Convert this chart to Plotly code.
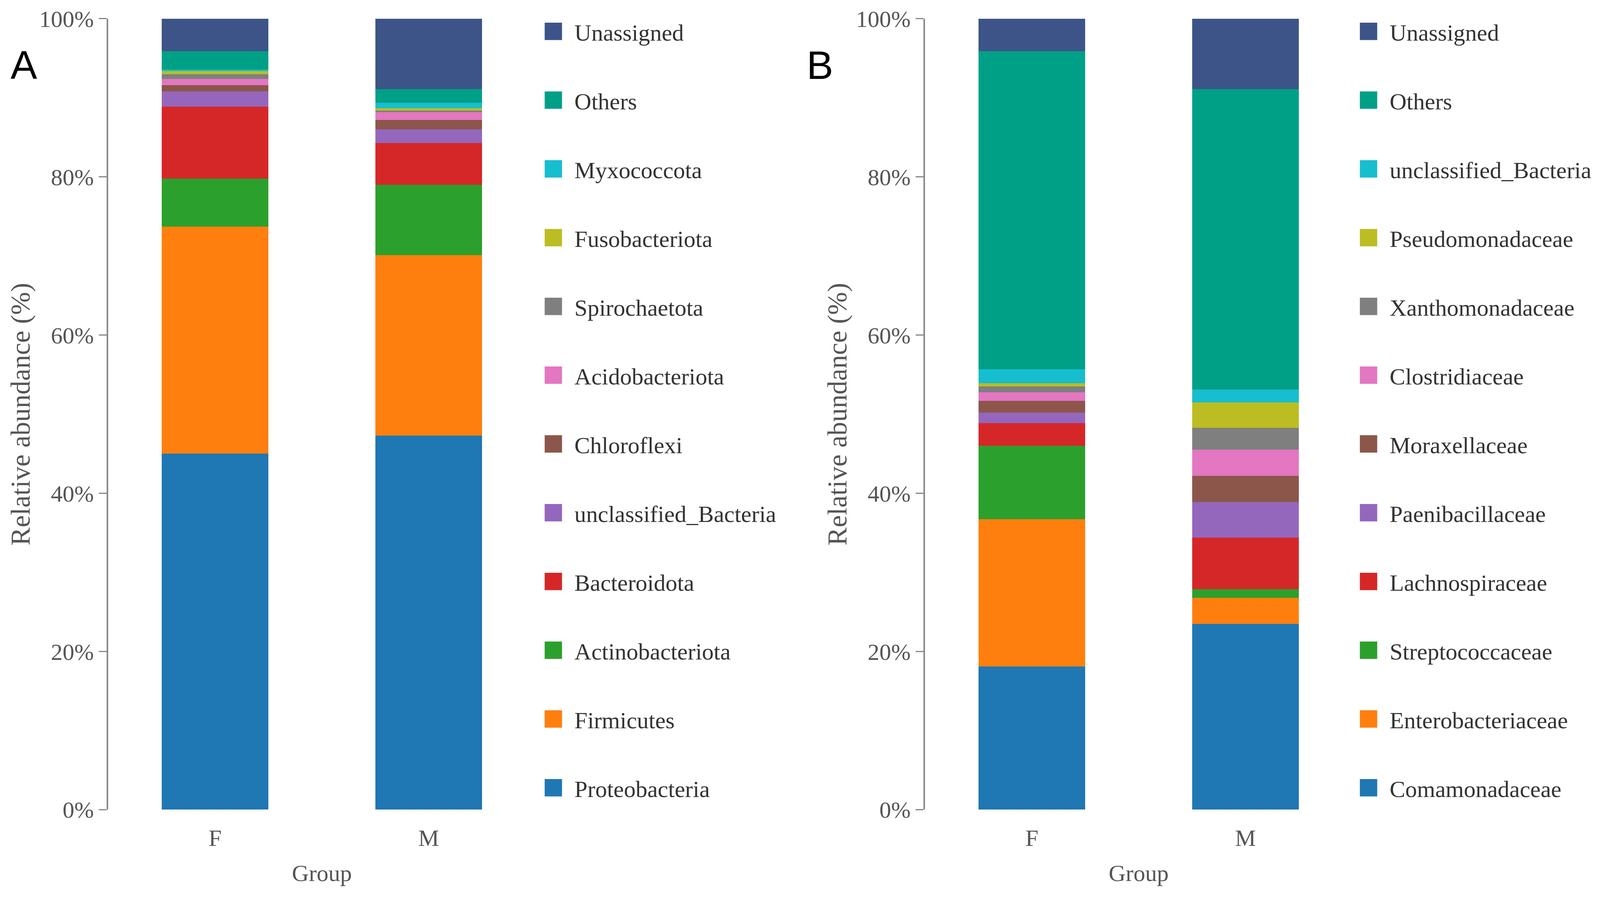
import plotly.graph_objects as go

groups = ["F", "M"]

# panel A - phylum level (bottom to top of the stack)
phylum_names = ["Proteobacteria", "Firmicutes", "Actinobacteriota", "Bacteroidota",
                "unclassified_Bacteria", "Chloroflexi", "Acidobacteriota", "Spirochaetota",
                "Fusobacteriota", "Myxococcota", "Others", "Unassigned"]
phylum_F = [45.0, 28.7, 6.1, 9.1, 1.9, 0.8, 0.8, 0.6, 0.4, 0.2, 2.3, 4.1]
phylum_M = [47.3, 22.8, 8.9, 5.3, 1.7, 1.2, 1.0, 0.2, 0.3, 0.7, 1.7, 8.9]

# panel B - family level
family_names = ["Comamonadaceae", "Enterobacteriaceae", "Streptococcaceae", "Lachnospiraceae",
                "Paenibacillaceae", "Moraxellaceae", "Clostridiaceae", "Xanthomonadaceae",
                "Pseudomonadaceae", "unclassified_Bacteria", "Others", "Unassigned"]
family_F = [18.1, 18.6, 9.3, 2.9, 1.3, 1.5, 1.1, 0.7, 0.4, 1.8, 40.2, 4.1]
family_M = [23.5, 3.3, 1.1, 6.5, 4.5, 3.3, 3.3, 2.8, 3.2, 1.6, 38.0, 8.9]

y_ticks = [0, 20, 40, 60, 80, 100]
y_tick_text = ["0%", "20%", "40%", "60%", "80%", "100%"]

colors = ["#1f77b4", "#ff7f0e", "#2ca02c", "#d62728", "#9467bd", "#8c564b",
          "#e377c2", "#7f7f7f", "#bcbd22", "#17becf", "#00a087", "#3c5488"]

serif = "Liberation Serif"

fig = go.Figure()

# legend shows the top of the stack first -> smaller rank for later traces
for i, name in enumerate(phylum_names):
    fig.add_trace(go.Bar(
        x=groups, y=[phylum_F[i], phylum_M[i]], name=name,
        marker=dict(color=colors[i], line=dict(width=0)),
        xaxis="x", yaxis="y", legend="legend", legendgroup="a%d" % i,
        legendrank=100 - i,
    ))

for i, name in enumerate(family_names):
    fig.add_trace(go.Bar(
        x=groups, y=[family_F[i], family_M[i]], name=name,
        marker=dict(color=colors[i], line=dict(width=0)),
        xaxis="x2", yaxis="y2", legend="legend2", legendgroup="b%d" % i,
        legendrank=100 - i,
    ))

ydom = [0.0965, 0.9825]
yax = dict(
    domain=ydom, range=[0, 100], tickvals=y_ticks, ticktext=y_tick_text,
    showline=True, linecolor="#888888", linewidth=4, ticks="outside", ticklen=20,
    tickwidth=3, tickcolor="#888888", showgrid=False, zeroline=False,
    tickfont=dict(family=serif, size=60, color="#555555"), ticklabelstandoff=1,
    title=dict(text="Relative abundance (%)", standoff=2,
               font=dict(family=serif, size=70, color="#555555")),
    automargin=False,
)
xax = dict(
    showline=False, ticks="", showgrid=False, zeroline=False,
    tickfont=dict(family=serif, size=60, color="#555555"), ticklabelstandoff=32,
    title=dict(text="Group", standoff=35, font=dict(family=serif, size=60, color="#555555")),
    automargin=False,
)

leg = dict(
    font=dict(family=serif, size=60, color="#333333"),
    traceorder="grouped", tracegroupgap=95, itemwidth=98,
    bgcolor="rgba(0,0,0,0)", yanchor="top", y=0.9883,
)

fig.update_layout(
    margin=dict(l=0, r=0, t=0, b=0),
    paper_bgcolor="white", plot_bgcolor="white",
    barmode="stack", bargap=0.5,
    xaxis=dict(domain=[0.0660, 0.3340], anchor="y", **xax),
    yaxis=dict(anchor="x", **yax),
    xaxis2=dict(domain=[0.5785, 0.8465], anchor="y2", **xax),
    yaxis2=dict(anchor="x2", **yax),
    legend=dict(x=0.3320, **leg),
    legend2=dict(x=0.8435, **leg),
    annotations=[
        dict(text="A", x=0.0129, y=0.9304, xref="paper", yref="paper", showarrow=False,
             xanchor="center", yanchor="middle",
             font=dict(family="Liberation Sans", size=102, color="black")),
        dict(text="B", x=0.5125, y=0.9304, xref="paper", yref="paper", showarrow=False,
             xanchor="center", yanchor="middle",
             font=dict(family="Liberation Sans", size=102, color="black")),
    ],
)

# plotly draws bar legend swatches at a fixed 12px; enlarge them to match the figure
swatch_js = """
var gd = document.getElementById('{plot_id}');
gd.querySelectorAll('.legendpoints path').forEach(function(p) {
    var t = p.getAttribute('transform') || '';
    p.setAttribute('transform', t + ' scale(3.7)');
});
"""

fig.write_html("out.html", post_script=swatch_js)
